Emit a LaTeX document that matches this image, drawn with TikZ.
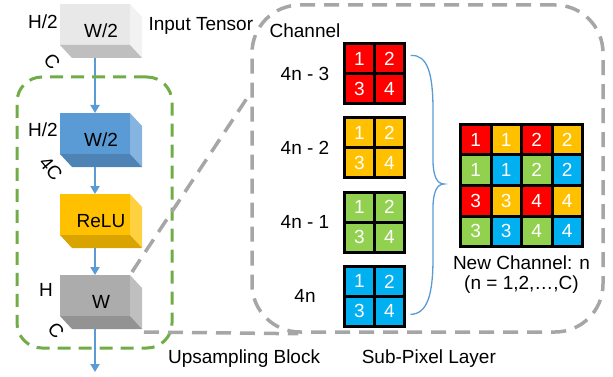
\documentclass[tikz,border=0pt]{standalone}
\usepackage{fontspec}
\setmainfont{Liberation Sans}
\usetikzlibrary{arrows.meta, positioning, calc, backgrounds}

\definecolor{arrowblue}{HTML}{5B9BD5}
\definecolor{upgreen}{HTML}{70AD47}
\definecolor{splgray}{HTML}{A6A6A6}
\definecolor{chred}{HTML}{FF0000}
\definecolor{chorange}{HTML}{FFC000}
\definecolor{chgreen}{HTML}{92D050}
\definecolor{chblue}{HTML}{00B0F0}

% front, side and bottom faces of a tensor block, behind its node
\newcommand{\cuboidfaces}[4]{
  \begin{scope}[on background layer]
    \fill[#2] (#1.north west) rectangle ++(70,41);
    \fill[#3] ([xshift=70pt]#1.north west) -- ++(12,13) -- (#1.south east) -- ++(-12,-13) -- cycle;
    \fill[#4] ([yshift=-41pt]#1.north west) -- ++(70,0) -- (#1.south east) -- ++(-70,0) -- cycle;
  \end{scope}
}

\begin{document}
\begin{tikzpicture}[
  x=1pt, y=-1pt, font=\fontsize{19}{22}\selectfont,
  cuboid/.style={rectangle, minimum width=82pt, minimum height=54pt,
                 inner sep=0pt, outer sep=0pt},
  dimlabel/.style={inner sep=0pt},
  arrow/.style={-{Triangle[width=9pt,length=8pt]}, line width=2pt, color=arrowblue},
  upbox/.style={draw=upgreen, line width=3pt, dash pattern=on 13pt off 8pt,
                rounded corners=25pt},
  splbox/.style={draw=splgray, line width=3.5pt, dash pattern=on 15pt off 9pt,
                 rounded corners=48pt},
  zoomline/.style={draw=splgray, line width=3.5pt, dash pattern=on 15pt off 9pt},
  cell/.style={rectangle, draw=black, line width=3pt, minimum size=30pt,
               inner sep=0pt, outer sep=0pt, text=white},
  newcell/.style={cell, minimum size=30.5pt},
  bracecurve/.style={draw=arrowblue, line width=1.3pt}
]
\useasboundingbox (0,0) rectangle (613,377);

% upsampling block
\node[cuboid] (input) at (101,31) {W/2};
\node[cuboid, below=55pt of input] (conv) {W/2};
\node[cuboid, below=27pt of conv] (relu) {ReLU};
\node[cuboid, below=27pt of relu] (shuffle) {W};
\cuboidfaces{input}{gray!18}{gray!10}{gray!50}
\cuboidfaces{conv}{arrowblue}{arrowblue!75!white}{arrowblue!85!black}
\cuboidfaces{relu}{chorange}{chorange!75!white}{chorange!85!black}
\cuboidfaces{shuffle}{gray!65}{gray!50}{gray!85}

\node[anchor=west] (intxt) at ([shift={(3,-5)}]input.east) {Input Tensor};
\node[dimlabel, anchor=east] (in-h) at ([shift={(-2,18)}]input.north west) {H/2};
\node[dimlabel, rotate=-50] (in-c) at ([shift={(-8,4)}]input.south west) {C};
\node[dimlabel, anchor=east] (conv-h) at ([shift={(-2,17)}]conv.north west) {H/2};
\node[dimlabel, rotate=-50] (conv-c) at ([shift={(-9,2)}]conv.south west) {4C};
\node[dimlabel, anchor=east] (sh-h) at ([shift={(-7,15)}]shuffle.north west) {H};
\node[dimlabel, rotate=-50] (sh-c) at ([shift={(-4,2)}]shuffle.south west) {C};

\coordinate (out) at (95,372);
\draw[arrow] ([xshift=-6pt]input.south) -- ([xshift=-6pt]conv.north);
\draw[arrow] ([xshift=-6pt]conv.south) -- ([xshift=-6pt]relu.north);
\draw[arrow] ([xshift=-6pt]relu.south) -- ([xshift=-6pt]shuffle.north);
\draw[arrow] ([xshift=-6pt]shuffle.south) -- (out);

\node[upbox, minimum width=155pt, minimum height=271pt] (up) at (94.5,212.5) {};
\node[anchor=west] (uptxt) at ([shift={(-9,9)}]up.south east) {Upsampling Block};

% sub-pixel layer
\node[splbox, minimum width=351pt, minimum height=327pt] (spl) at (427.5,168.5) {};
\node[anchor=west] (spltxt) at ([shift={(108,25)}]spl.south west) {Sub-Pixel Layer};
\coordinate (zoomtop) at ([shift={(0,90)}]spl.north west);
\coordinate (zoombot) at ([xshift=48pt]spl.south west);
\draw[zoomline] ([shift={(72,-3)}]shuffle.north west) -- (zoomtop);
\draw[zoomline] ([shift={(2,3)}]shuffle.south east) -- (zoombot);

\node (chtxt) at (305,31) {Channel};
\foreach \name/\col/\y/\lab in {ca/chred/58.5/4n - 3, cb/chorange/132.8/4n - 2,
                                cc/chgreen/207.1/4n - 1, cd/chblue/281.4/4n} {
  \node[cell, fill=\col] (\name-1) at (359.5,\y) {1};
  \node[cell, fill=\col] (\name-2) at (389.5,\y) {2};
  \node[cell, fill=\col] (\name-3) at (359.5,{\y+30}) {3};
  \node[cell, fill=\col] (\name-4) at (389.5,{\y+30}) {4};
  \node (\name-lab) at (305,{\y+15}) {\lab};
}

% pixel shuffle result
\foreach \row/\colA/\colB/\a/\b in {1/chred/chorange/1/2, 2/chgreen/chblue/1/2,
                                    3/chred/chorange/3/4, 4/chgreen/chblue/3/4} {
  \node[newcell, fill=\colA] (o\row-1) at (475.75,{139.75+30.5*(\row-1)}) {\a};
  \node[newcell, fill=\colB] (o\row-2) at (506.25,{139.75+30.5*(\row-1)}) {\a};
  \node[newcell, fill=\colA] (o\row-3) at (536.75,{139.75+30.5*(\row-1)}) {\b};
  \node[newcell, fill=\colB] (o\row-4) at (567.25,{139.75+30.5*(\row-1)}) {\b};
}
\node (newch) at (521.5,263) {New Channel: n};
\node (nrange) at (521.5,285) {(n = 1,2,…,C)};

\coordinate (bracetop) at ([shift={(6,12)}]ca-2.north east);
\coordinate (bracebot) at ([shift={(6,-12)}]cd-4.south east);
\draw[bracecurve] (bracetop) .. controls (428,54) and (433,75) .. (433,110)
  -- (433,160) .. controls (433,176) and (437,184) .. (444,184)
  .. controls (437,184) and (433,192) .. (433,208)
  -- (433,258) .. controls (433,293) and (428,314) .. (bracebot);
\end{tikzpicture}
\end{document}
